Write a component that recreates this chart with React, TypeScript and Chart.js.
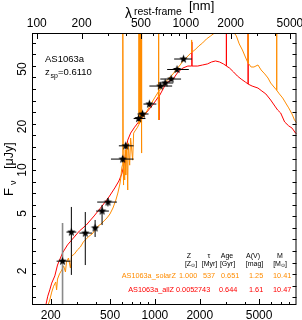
import React, { useEffect, useRef } from "react";
import { Chart, registerables } from "chart.js";

Chart.register(...registerables);

// ---------------- data ----------------
const REDSHIFT = 0.611;
const OBJECT_NAME = "AS1063a";
const Z_TEXT = "0.6110";

// photometry (observed wavelength in nm, flux in microJy)
const photLambda = [240, 275, 341, 397, 442, 484, 608, 637, 777, 826, 918, 1086, 1172, 1285, 1408, 1556];
const photFlux = [2.34, 3.72, 3.66, 3.97, 5.2, 6.0, 11.9, 14.7, 22.7, 24.4, 28.6, 38.1, 40.0, 42.6, 49.6, 58.6];
const photLambdaLo = [219, 255, 311, 385, 403, 410, 507, 573, 720, 764, 838, 918, 1054, 1087, 1208, 1346];
const photLambdaHi = [271, 297, 379, 410, 491, 556, 720, 720, 864, 906, 1022, 1305, 1326, 1498, 1688, 1770];
const photFluxLo = [0.5, 1.88, 2.2, 3.44, 4.16, 5.6, 11.3, 14.0, 21.8, 23.4, 27.5, 36.8, 38.6, 41.2, 48.0, 56.8];
const photFluxHi = [4.3, 5.55, 5.12, 4.51, 5.73, 6.4, 12.5, 15.4, 23.6, 25.4, 29.7, 39.4, 41.4, 44.0, 51.2, 60.4];

// best-fit model, solar metallicity (orange)
const orangeLambda = [191, 197, 203, 209, 216, 219, 222, 229, 237, 244, 251, 255, 263, 271, 276, 288, 302, 316, 331, 346, 362, 379, 397, 416, 435, 455, 477, 499, 523, 547, 564, 582, 590, 599, 605, 609, 613, 614, 618, 627, 632, 637, 647, 657, 662, 677, 687, 709, 720, 742, 765, 781, 783, 785, 797, 799, 801, 805, 807, 809, 813, 816, 819, 851, 892, 934, 976, 1022, 1054, 1057, 1059, 1063, 1066, 1104, 1154, 1227, 1305, 1386, 1476, 1543, 1640, 1744, 1758, 1762, 1766, 1854, 1970, 2090, 2220, 2364, 2512, 2714, 2920, 3164, 3368, 3520, 3680, 3864, 4046, 4215, 4220, 4225, 4420, 4620, 4914, 5160, 5460, 5740, 5980, 6380, 6545, 6560, 6575, 6840, 7200, 7540, 7900, 8320, 8640, 9180];
const orangeFlux = [1.15, 1.26, 1.43, 1.57, 1.68, 1.48, 1.76, 1.91, 2.03, 2.17, 1.97, 2.31, 2.46, 2.1, 2.54, 2.62, 2.8, 2.93, 3.18, 3.33, 3.49, 3.61, 3.84, 4.1, 4.23, 4.44, 4.66, 4.96, 5.46, 6.2, 6.93, 8.0, 8.8, 10.3, 10.8, 100, 11.0, 7.87, 12.3, 8.53, 13.8, 9.23, 14.9, 7.27, 15.4, 10.8, 16.65, 11.7, 18.0, 18.9, 19.8, 20.7, 100, 20.8, 21.4, 100, 21.5, 21.8, 100, 22.0, 22.2, 13.1, 22.4, 24.0, 26.0, 28.2, 30.5, 33.0, 34.7, 100, 34.8, 22.2, 35.0, 36.9, 39.4, 42.6, 45.4, 49.2, 53.3, 56.8, 60.5, 64.5, 65.0, 79.4, 65.2, 67.7, 72.1, 75.7, 80.7, 84.6, 88.7, 94.6, 97.6, 96.0, 90.2, 84.6, 74.5, 67.7, 60.5, 55.0, 100, 55.0, 51.6, 51.6, 53.3, 49.2, 46.2, 43.3, 40.0, 36.9, 35.8, 100, 35.6, 33.6, 31.5, 29.1, 26.9, 24.4, 22.2, 20.5];

// best-fit model, all metallicities (red)
const redLambda = [185, 191, 197, 203, 213, 222, 240, 259, 280, 311, 346, 391, 442, 491, 538, 573, 599, 618, 637, 657, 687, 731, 777, 838, 906, 976, 1054, 1062, 1070, 1192, 1326, 1430, 1543, 1664, 1766, 1770, 1774, 1938, 2090, 2254, 2400, 2550, 2714, 2880, 3012, 3016, 3020, 3164, 3368, 3576, 3788, 4046, 4216, 4220, 4224, 4490, 4914, 5220, 5550, 5980, 6380, 6660, 6980, 7420, 7900, 8320, 8780, 9180];
const redFlux = [1.15, 1.34, 1.48, 1.65, 1.85, 2.2, 2.67, 3.03, 3.33, 3.78, 4.16, 4.81, 5.63, 6.5, 7.51, 8.39, 9.38, 10.66, 13.3, 16.1, 18.0, 19.8, 21.5, 23.6, 26.0, 28.6, 32.0, 22.2, 32.5, 40.0, 42.6, 47.7, 50.8, 52.4, 52.4, 76.9, 52.4, 52.4, 53.3, 54.2, 55.9, 56.8, 55.9, 54.2, 52.6, 100, 52.4, 50.8, 47.7, 44.7, 42.6, 40.6, 39.4, 100, 39.3, 38.1, 36.9, 35.2, 33.6, 30.5, 27.7, 26.0, 24.8, 21.5, 20.2, 19.5, 18.0, 17.5];

// axes
const X_MIN = 149.7;
const X_MAX = 8914;
const Y_MIN = 1.164;
const Y_MAX = 88.7;
const bottomMajor = [200, 500, 1000, 2000, 5000];
const bottomMinor = [300, 400, 600, 700, 800, 900, 3000, 4000, 6000, 7000, 8000];
const topMajorRest = [100, 200, 500, 1000, 2000, 5000];
const topMinorRest = [300, 400, 600, 700, 800, 900, 3000, 4000];
const yMajor = [2, 5, 10, 20, 50];
const yMinorTicks = [1.32, 1.58, 1.91, 2.29, 2.75, 3.31, 3.98, 4.79, 5.75, 6.92, 8.32, 10, 12.0, 14.5, 17.4, 20.9, 25.1, 30.2, 36.3, 43.7, 52.5, 63.1, 75.9];

// legend table
const legendNames = ["AS1063a_solarZ", "AS1063a_allZ"];
const legendZ = ["1.000", "0.005"];
const legendTau = ["537", "2743"];
const legendAge = ["0.651", "0.644"];
const legendAV = ["1.25", "1.61"];
const legendM = ["10.41", "10.47"];

// ---------------- styles ----------------
const ORANGE = "#ff8c00";
const RED = "#ff0000";
const FAMILY = '"Liberation Sans", Arial, Helvetica, sans-serif';
const f = (px: number) => `${px}px ${FAMILY}`;

function makeStar(r: number) {
  const c = document.createElement("canvas");
  const s = Math.ceil(r * 2 + 2);
  c.width = s;
  c.height = s;
  const ctx = c.getContext("2d")!;
  ctx.fillStyle = "#000";
  ctx.beginPath();
  for (let k = 0; k < 10; k++) {
    const rad = k % 2 === 0 ? r : r * 0.42;
    const a = -Math.PI / 2 + (k * Math.PI) / 5;
    const px = s / 2 + rad * Math.cos(a);
    const py = s / 2 + rad * Math.sin(a);
    if (k === 0) ctx.moveTo(px, py);
    else ctx.lineTo(px, py);
  }
  ctx.closePath();
  ctx.fill();
  return c;
}

const idlFrame = {
  id: "idlFrame",
  afterDraw(chart: any) {
    const { ctx, chartArea: a, scales } = chart;
    const xs = scales.x;
    const ys = scales.y;
    const px = (v: number) => Math.round(xs.getPixelForValue(v)) + 0.5;
    const py = (v: number) => Math.round(ys.getPixelForValue(v)) + 0.5;
    ctx.save();
    ctx.strokeStyle = "#000";
    ctx.lineWidth = 1;
    ctx.strokeRect(a.left + 0.5, a.top + 0.5, a.right - a.left - 1, a.bottom - a.top - 1);
    ctx.beginPath();
    const bx = (v: number, len: number) => {
      const x = px(v);
      if (x < a.left || x > a.right) return;
      ctx.moveTo(x, a.bottom);
      ctx.lineTo(x, a.bottom - len);
    };
    const tx = (v: number, len: number) => {
      const x = px(v * (1 + REDSHIFT));
      if (x < a.left || x > a.right) return;
      ctx.moveTo(x, a.top);
      ctx.lineTo(x, a.top + len);
    };
    bottomMajor.forEach((v) => bx(v, 6));
    bottomMinor.forEach((v) => bx(v, 3));
    topMajorRest.forEach((v) => tx(v, 6));
    topMinorRest.forEach((v) => tx(v, 3));
    yMinorTicks.forEach((v) => {
      const y = py(v);
      ctx.moveTo(a.left, y);
      ctx.lineTo(a.left + 4, y);
      ctx.moveTo(a.right, y);
      ctx.lineTo(a.right - 4, y);
    });
    ctx.stroke();

    ctx.fillStyle = "#000";
    ctx.textBaseline = "alphabetic";
    ctx.textAlign = "center";
    ctx.font = f(12);
    bottomMajor.forEach((v) => ctx.fillText(String(v), xs.getPixelForValue(v), 319));
    topMajorRest.forEach((v) => ctx.fillText(String(v), xs.getPixelForValue(v * (1 + REDSHIFT)), 27));
    yMajor.forEach((v) => {
      ctx.save();
      ctx.translate(25.5, ys.getPixelForValue(v));
      ctx.rotate(-Math.PI / 2);
      ctx.fillText(String(v), 0, 0);
      ctx.restore();
    });

    // top title
    ctx.textAlign = "left";
    ctx.font = f(14);
    ctx.fillText("λ", 125, 18);
    ctx.font = f(10.5);
    ctx.fillText("rest-frame", 134, 15);
    ctx.font = f(13);
    ctx.fillText("[nm]", 189, 10);

    // y title
    ctx.save();
    ctx.translate(13, 197);
    ctx.rotate(-Math.PI / 2);
    ctx.font = f(13);
    ctx.fillText("F", 1, 0);
    ctx.font = f(9);
    ctx.fillText("ν", 12, 3);
    ctx.font = f(12.5);
    ctx.fillText("[μJy]", 28, 0);
    ctx.restore();

    // object label
    ctx.font = f(9.5);
    ctx.fillText(OBJECT_NAME, 45, 62);
    ctx.fillText("z", 45, 75);
    ctx.font = f(7);
    ctx.fillText("sp", 50.5, 78);
    ctx.font = f(9.5);
    ctx.fillText("=" + Z_TEXT, 58, 75);

    // legend table header
    ctx.font = f(7);
    ctx.textAlign = "center";
    ctx.fillText("Z", 189, 257.5);
    ctx.fillText("τ", 209, 257.5);
    ctx.fillText("Age", 227, 257.5);
    ctx.fillText("A(V)", 253, 257.5);
    ctx.fillText("M", 280, 257.5);
    const sunUnit = (letter: string, cx: number, y: number) => {
      ctx.font = f(7);
      const w1 = ctx.measureText("[" + letter).width;
      ctx.font = f(5);
      const w2 = ctx.measureText("⊙").width;
      ctx.font = f(7);
      const w3 = ctx.measureText("]").width;
      let x = cx - (w1 + w2 + w3) / 2;
      ctx.textAlign = "left";
      ctx.fillText("[" + letter, x, y);
      x += w1;
      ctx.font = f(5);
      ctx.fillText("⊙", x, y + 1.5);
      x += w2;
      ctx.font = f(7);
      ctx.fillText("]", x, y);
      ctx.textAlign = "center";
    };
    sunUnit("Z", 191, 265.5);
    ctx.fillText("[Myr]", 209.5, 265.5);
    ctx.fillText("[Gyr]", 227.5, 265.5);
    ctx.fillText("[mag]", 254.5, 265.5);
    sunUnit("M", 280, 265.5);

    // legend rows
    const rows = [
      { color: ORANGE, y: 277.5, nameRight: 176, xs: [179, 203, 221, 249, 273] },
      { color: RED, y: 291.5, nameRight: 174, xs: [176, 194, 219, 249, 273] },
    ];
    rows.forEach((r, i) => {
      ctx.fillStyle = r.color;
      ctx.font = f(7.3);
      ctx.textAlign = "right";
      ctx.fillText(legendNames[i], r.nameRight, r.y);
      ctx.textAlign = "left";
      const vals = [legendZ[i], legendTau[i], legendAge[i], legendAV[i], legendM[i]];
      vals.forEach((v, k) => ctx.fillText(v, r.xs[k], r.y));
    });
    ctx.restore();
  },
};

export default function App() {
  const ref = useRef<HTMLCanvasElement>(null);
  useEffect(() => {
    const canvas = ref.current!;
    const star = makeStar(4.5);

    const errData: any[] = [];
    photLambda.forEach((l, i) => {
      errData.push({ x: photLambdaLo[i], y: photFlux[i] }, { x: photLambdaHi[i], y: photFlux[i] }, { x: l, y: null });
      if (i > 0) {
        errData.push({ x: l, y: photFluxLo[i] }, { x: l, y: photFluxHi[i] }, { x: l, y: null });
      }
    });
    const grayData = [
      { x: photLambda[0], y: photFluxLo[0] },
      { x: photLambda[0], y: photFluxHi[0] },
    ];

    const chart = new Chart(canvas, {
      type: "line",
      data: {
        datasets: [
          {
            label: "photometry",
            data: photLambda.map((l, i) => ({ x: l, y: photFlux[i] })),
            showLine: false,
            pointStyle: star as any,
            pointRadius: 4.5,
            borderColor: "#000",
            backgroundColor: "#000",
          },
          {
            label: "errors",
            data: errData,
            borderColor: "#000",
            borderWidth: 1,
            pointRadius: 0,
            spanGaps: false,
            tension: 0,
          },
          {
            label: "upper",
            data: grayData,
            borderColor: "#8a8a8a",
            borderWidth: 1.6,
            pointRadius: 0,
            tension: 0,
          },
          {
            label: "solarZ",
            data: orangeLambda.map((l, i) => ({ x: l, y: orangeFlux[i] })),
            borderColor: ORANGE,
            borderWidth: 1,
            pointRadius: 0,
            tension: 0,
          },
          {
            label: "allZ",
            data: redLambda.map((l, i) => ({ x: l, y: redFlux[i] })),
            borderColor: RED,
            borderWidth: 1,
            pointRadius: 0,
            tension: 0,
          },
        ],
      },
      options: {
        animation: false,
        responsive: false,
        devicePixelRatio: 1,
        events: [],
        layout: { padding: { left: 32, right: 2, top: 33, bottom: 15 } },
        plugins: { legend: { display: false }, tooltip: { enabled: false }, title: { display: false } },
        scales: {
          x: { type: "logarithmic", min: X_MIN, max: X_MAX, display: false },
          y: { type: "logarithmic", min: Y_MIN, max: Y_MAX, display: false },
        },
      },
      plugins: [idlFrame],
    } as any);
    return () => chart.destroy();
  }, []);

  return (
    <div style={{ position: "absolute", left: 0, top: 0, width: 302, height: 320, background: "#fff" }}>
      <canvas ref={ref} width={302} height={320} style={{ display: "block", width: 302, height: 320 }} />
    </div>
  );
}
